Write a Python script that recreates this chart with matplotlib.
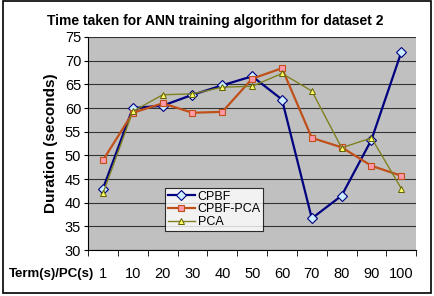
import numpy as np
import matplotlib.pyplot as plt
from matplotlib.patches import Rectangle

plt.rcParams['font.family'] = ['Liberation Sans', 'DejaVu Sans']

categories = ["1", "10", "20", "30", "40", "50", "60", "70", "80", "90", "100"]
cpbf = [43.0, 60.0, 60.5, 62.8, 64.8, 66.7, 61.8, 36.7, 41.5, 53.3, 71.8]
cpbf_pca = [49.0, 59.0, 61.0, 59.0, 59.2, 66.2, 68.4, 53.7, 51.7, 47.8, 45.7]
pca = [42.0, 59.3, 62.8, 63.0, 64.4, 64.6, 67.3, 63.6, 51.6, 53.7, 43.0]

x = np.arange(len(categories))

fig = plt.figure(figsize=(4.34, 2.96), dpi=100)
fig.patches.append(Rectangle((0.006, 0.01), 0.986, 0.985, transform=fig.transFigure,
                             fill=False, edgecolor="black", linewidth=1.2))
ax = fig.add_axes([0.203, 0.155, 0.756, 0.72])
ax.set_facecolor("#c0c0c0")

ax.plot(x, cpbf, color="#000080", linewidth=1.6, marker="D", markersize=5,
        markerfacecolor="#ccecff", markeredgecolor="#000080", markeredgewidth=0.8, label="CPBF")
ax.plot(x, cpbf_pca, color="#c0501a", linewidth=1.6, marker="s", markersize=4,
        markerfacecolor="#ff99aa", markeredgecolor="#c0501a", markeredgewidth=0.8, label="CPBF-PCA")
ax.plot(x, pca, color="#808020", linewidth=1.0, marker="^", markersize=4.5,
        markerfacecolor="#ffff66", markeredgecolor="#606000", markeredgewidth=0.7, label="PCA")

ax.set_xlim(-0.5, len(categories) - 0.5)
ax.set_ylim(30, 75)
ax.set_yticks(np.arange(30, 76, 5))
ax.yaxis.grid(True, color="#333333", linewidth=0.8)
ax.set_axisbelow(True)
ax.set_xticks(x, categories)
ax.set_xticks(np.arange(-0.5, len(categories)), minor=True)
ax.tick_params(axis="x", which="major", length=0, labelsize=10.5, pad=12)
ax.tick_params(axis="x", which="minor", length=4, direction="out")
ax.tick_params(axis="y", length=3, labelsize=10.5, pad=2)
for s in ["top", "right"]:
    ax.spines[s].set_visible(False)

fig.text(0.496, 0.93, "Time taken for ANN training algorithm for dataset 2",
         fontsize=10, fontweight="bold", ha="center", va="center")
ax.set_ylabel("Duration (seconds)", fontsize=11, fontweight="bold", labelpad=5)
fig.text(0.02, 0.075, "Term(s)/PC(s)", fontsize=9.5, fontweight="bold", va="center")

leg = ax.legend(loc="upper left", bbox_to_anchor=(0.235, 0.29), fontsize=9,
                frameon=True, fancybox=False, edgecolor="black", borderpad=0.2,
                labelspacing=0.05, handlelength=2.2, handletextpad=0.2, borderaxespad=0)
leg.get_frame().set_linewidth(0.8)

fig.savefig("out.png", dpi=100)
